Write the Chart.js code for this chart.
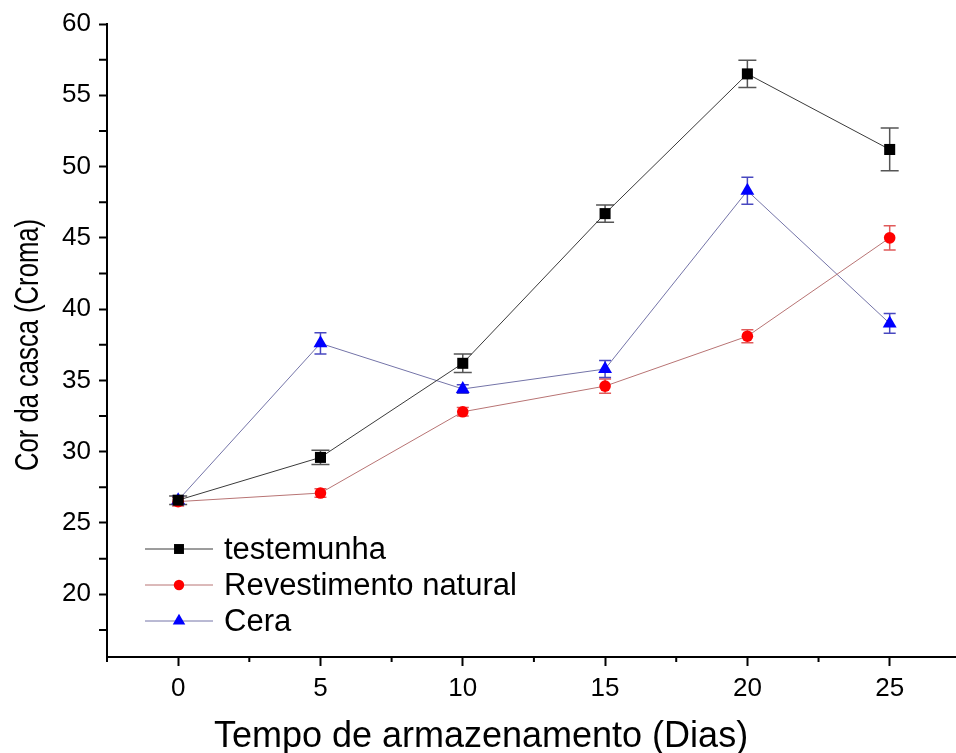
<!DOCTYPE html>
<html>
<head>
<meta charset="utf-8">
<script src="https://cdn.jsdelivr.net/npm/chart.js@4.4.1/dist/chart.umd.min.js"></script>
<style>
  html, body { margin: 0; padding: 0; background: #fff; }
  #wrap { width: 956px; height: 753px; }
</style>
</head>
<body>
<div id="wrap"><canvas id="chart" width="956" height="753"></canvas></div>
<script>
// storage days
const dias = [0, 5, 10, 15, 20, 25];

// chroma of the peel per treatment, with standard error
const testemunha = [26.6, 29.6, 36.2, 46.7, 56.5, 51.2];
const testemunhaErr = [0.3, 0.5, 0.65, 0.6, 0.95, 1.5];

const revestimento = [26.5, 27.1, 32.8, 34.6, 38.1, 45.0];
const revestimentoErr = [0.3, 0.3, 0.3, 0.5, 0.45, 0.85];

const cera = [26.6, 37.6, 34.4, 35.8, 48.3, 39.0];
const ceraErr = [0.3, 0.75, 0.3, 0.6, 0.95, 0.7];

const xTicks = [0, 5, 10, 15, 20, 25];
const xMinor = [-2.5, 2.5, 7.5, 12.5, 17.5, 22.5, 27.5];
const yTicks = [20, 25, 30, 35, 40, 45, 50, 55, 60];
const yMinor = [17.5, 22.5, 27.5, 32.5, 37.5, 42.5, 47.5, 52.5, 57.5];

const FONT = 'Arial, "Liberation Sans", sans-serif';

const series = [
  { label: 'testemunha', y: testemunha, err: testemunhaErr, line: '#3a3a3a', fill: '#000000', bar: '#555555', cap: 9, style: 'rect', r: 7.8 },
  { label: 'Revestimento natural', y: revestimento, err: revestimentoErr, line: '#b87474', fill: '#ff0000', bar: '#e05a5a', cap: 6, style: 'circle', r: 5.8 },
  { label: 'Cera', y: cera, err: ceraErr, line: '#7474a8', fill: '#0000ff', bar: '#4848c0', cap: 6, style: 'triangle', r: 8 }
];

function toPoints(ys) {
  return dias.map((d, i) => ({ x: d, y: ys[i] }));
}

function marker(ctx, style, x, y, r, color) {
  ctx.save();
  ctx.fillStyle = color;
  ctx.beginPath();
  if (style === 'rect') {
    const s = r * Math.SQRT1_2;
    ctx.rect(x - s, y - s, 2 * s, 2 * s);
  } else if (style === 'circle') {
    ctx.arc(x, y, r, 0, Math.PI * 2);
  } else {
    ctx.moveTo(x, y - r);
    ctx.lineTo(x + r * 0.866, y + r * 0.5);
    ctx.lineTo(x - r * 0.866, y + r * 0.5);
    ctx.closePath();
  }
  ctx.fill();
  ctx.restore();
}

// error bars under the markers
const errorBars = {
  id: 'errorBars',
  beforeDatasetsDraw(chart) {
    const { ctx, scales: { x, y } } = chart;
    ctx.save();
    series.forEach(s => {
      ctx.strokeStyle = s.bar;
      ctx.lineWidth = 1.5;
      s.y.forEach((v, i) => {
        const px = x.getPixelForValue(dias[i]);
        const top = y.getPixelForValue(v + s.err[i]);
        const bot = y.getPixelForValue(v - s.err[i]);
        ctx.beginPath();
        ctx.moveTo(px, top); ctx.lineTo(px, bot);
        ctx.moveTo(px - s.cap, top); ctx.lineTo(px + s.cap, top);
        ctx.moveTo(px - s.cap, bot); ctx.lineTo(px + s.cap, bot);
        ctx.stroke();
      });
    });
    ctx.restore();
  }
};

// minor ticks, axis titles and the legend inside the plot
const extras = {
  id: 'extras',
  afterDraw(chart) {
    const { ctx, chartArea: a, scales: { x, y } } = chart;
    ctx.save();
    ctx.strokeStyle = '#000';
    ctx.lineWidth = 2;
    ctx.beginPath();
    xMinor.forEach(v => {
      const px = x.getPixelForValue(v);
      if (px < a.left || px > chart.width) return;
      ctx.moveTo(px, a.bottom); ctx.lineTo(px, a.bottom + 5);
    });
    yMinor.forEach(v => {
      const py = y.getPixelForValue(v);
      if (py < a.top || py > a.bottom) return;
      ctx.moveTo(a.left, py); ctx.lineTo(a.left - 8, py);
    });
    ctx.stroke();

    ctx.fillStyle = '#000';
    ctx.textAlign = 'center';
    ctx.textBaseline = 'middle';
    ctx.font = '36px ' + FONT;
    ctx.fillText('Tempo de armazenamento (Dias)', 481, 737);

    // y title is set condensed along its length
    ctx.save();
    ctx.translate(29, 345);
    ctx.rotate(-Math.PI / 2);
    ctx.font = '33px ' + FONT;
    const w = ctx.measureText('Cor da casca (Croma)').width;
    ctx.scale(252 / w, 1);
    ctx.fillText('Cor da casca (Croma)', 0, 0);
    ctx.restore();

    ctx.font = '31px ' + FONT;
    ctx.textAlign = 'left';
    series.forEach((s, i) => {
      const ly = a.bottom - 108 + i * 36;
      const lx = a.left + 38;
      ctx.strokeStyle = s.line;
      ctx.lineWidth = 1;
      ctx.beginPath();
      ctx.moveTo(lx, ly); ctx.lineTo(lx + 68, ly);
      ctx.stroke();
      marker(ctx, s.style, lx + 34, ly, s.r * 0.9, s.fill);
      ctx.fillStyle = '#000';
      ctx.fillText(s.label, lx + 79, ly + 1);
    });
    ctx.restore();
  }
};

new Chart(document.getElementById('chart'), {
  type: 'line',
  data: {
    datasets: series.map(s => ({
      label: s.label,
      data: toPoints(s.y),
      borderColor: s.line,
      borderWidth: 1,
      backgroundColor: s.fill,
      pointBackgroundColor: s.fill,
      pointBorderWidth: 0,
      pointStyle: s.style,
      pointRadius: s.r,
      pointHoverRadius: s.r,
      tension: 0,
      clip: false
    }))
  },
  options: {
    responsive: false,
    animation: false,
    devicePixelRatio: 1,
    layout: { autoPadding: false, padding: { top: 24, right: 0, bottom: 0, left: 0 } },
    plugins: { legend: { display: false }, tooltip: { enabled: false } },
    scales: {
      x: {
        type: 'linear',
        min: -2.5,
        max: 27.33,
        afterBuildTicks: scale => { scale.ticks = xTicks.map(v => ({ value: v })); },
        afterFit: scale => { scale.height = 96; },
        grid: { drawOnChartArea: false, drawTicks: true, tickLength: 9, tickWidth: 2, tickColor: '#000' },
        border: { display: true, color: '#000', width: 2 },
        ticks: { color: '#000', font: { family: FONT, size: 26 }, padding: 7, maxRotation: 0 }
      },
      y: {
        type: 'linear',
        min: 15.6,
        max: 60,
        afterBuildTicks: scale => { scale.ticks = yTicks.map(v => ({ value: v })); },
        afterFit: scale => { scale.width = 107; },
        grid: { drawOnChartArea: false, drawTicks: true, tickLength: 8, tickWidth: 2, tickColor: '#000' },
        border: { display: true, color: '#000', width: 2 },
        ticks: { color: '#000', font: { family: FONT, size: 26 }, padding: 8 }
      }
    }
  },
  plugins: [errorBars, extras]
});
</script>
</body>
</html>
